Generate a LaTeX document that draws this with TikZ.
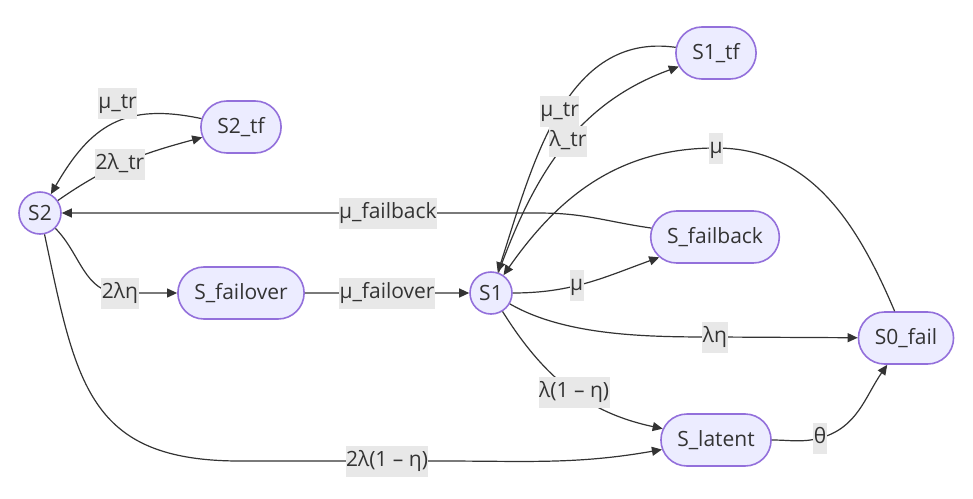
\documentclass[tikz,border=0pt]{standalone}
\usepackage{fontspec}
\setmainfont{Open Sans}
\usetikzlibrary{positioning, shapes.misc, arrows.meta}
\definecolor{nodefill}{HTML}{ECECFF}
\definecolor{nodeline}{HTML}{9370DB}
\definecolor{edgeline}{HTML}{333333}
\definecolor{ratebg}{HTML}{E8E8E8}
\tikzset{
    cstate/.style={circle, draw=nodeline, fill=nodefill, line width=1.6pt, minimum size=42pt, inner sep=0pt, text=edgeline},
    rstate/.style={rounded rectangle, draw=nodeline, fill=nodefill, line width=1.6pt, minimum height=52pt, inner xsep=14.5pt, text=edgeline},
    rate/.style={fill=ratebg, inner xsep=0.5pt, inner ysep=0pt, text height=15pt, text depth=5pt, minimum height=31pt, text=edgeline},
    link/.style={->, draw=edgeline, line width=1.2pt},
    >={Triangle[length=10pt, width=9pt]},
}
\begin{document}
\begin{tikzpicture}[on grid, font=\fontsize{21}{25}\selectfont]
        \useasboundingbox (0,0) rectangle (973pt,-498pt);
        \node [cstate] (S2) at (40pt,-213pt) {S2};
        \node [rstate] (S2tf) [above right=86pt and 201pt of S2] {S2\_tf};
        \node [rstate] (Sfailover) [below right=80pt and 201pt of S2] {S\_failover};
        \node [cstate] (S1) [right=250pt of Sfailover] {S1};
        \node [rstate] (S1tf) [above right=240pt and 225pt of S1] {S1\_tf};
        \node [rstate] (Sfailback) [above right=56pt and 224pt of S1] {S\_failback};
        \node [rstate] (S0fail) [below right=45pt and 415pt of S1] {S0\_fail};
        \node [rstate] (Slatent) [below right=147pt and 225pt of S1] {S\_latent};
        \draw[link] (S2tf) to[out=168, in=60, looseness=1.2] node[rate, pos=0.46, yshift=18pt] {μ\_tr} (S2);
        \draw[link] (S2) to[out=35, in=195] node[rate, pos=0.45] {2λ\_tr} (S2tf);
        \draw[link] (Sfailback.172) to[out=172, in=0] ++(-110pt,15pt) -- node[rate, pos=0.32] {μ\_failback} (S2);
        \draw[link] (S2) to[out=-45, in=180] ++(80pt,-80pt) node[rate] {2λη} -- (Sfailover);
        \draw[link] (Sfailover) -- node[rate] {μ\_failover} (S1);
        \draw[link] (S2) to[out=-78, in=180, looseness=1.3] ++(200pt,-248pt) -- node[rate, pos=0.735] {2λ(1 – η)} ++(200pt,0pt) to[out=0, in=190] (Slatent);
        \draw[link] (S1tf) to[out=172, in=72] node[rate, pos=0.49] {μ\_tr} (S1);
        \draw[link] (S1) to[out=70, in=200] node[rate, pos=0.52] {λ\_tr} (S1tf);
        \draw[link] (S0fail) to[out=113, in=0] ++(-190pt,190pt) node[rate] {μ} to[out=180, in=55] (S1);
        \draw[link] (S1) to[out=0, in=200] node[rate, pos=0.42] {μ} (Sfailback);
        \draw[link] (S1) to[out=-30, in=180, looseness=0.8] ++(224pt,-44pt) node[rate] {λη} -- (S0fail);
        \draw[link] (S1) to[out=-58, in=168] node[rate, pos=0.53] {λ(1 – η)} (Slatent);
        \draw[link] (Slatent) to[out=0, in=195] ++(104pt,2pt) node[rate] {θ} to[out=15, in=235] (S0fail);
\end{tikzpicture}
\end{document}
